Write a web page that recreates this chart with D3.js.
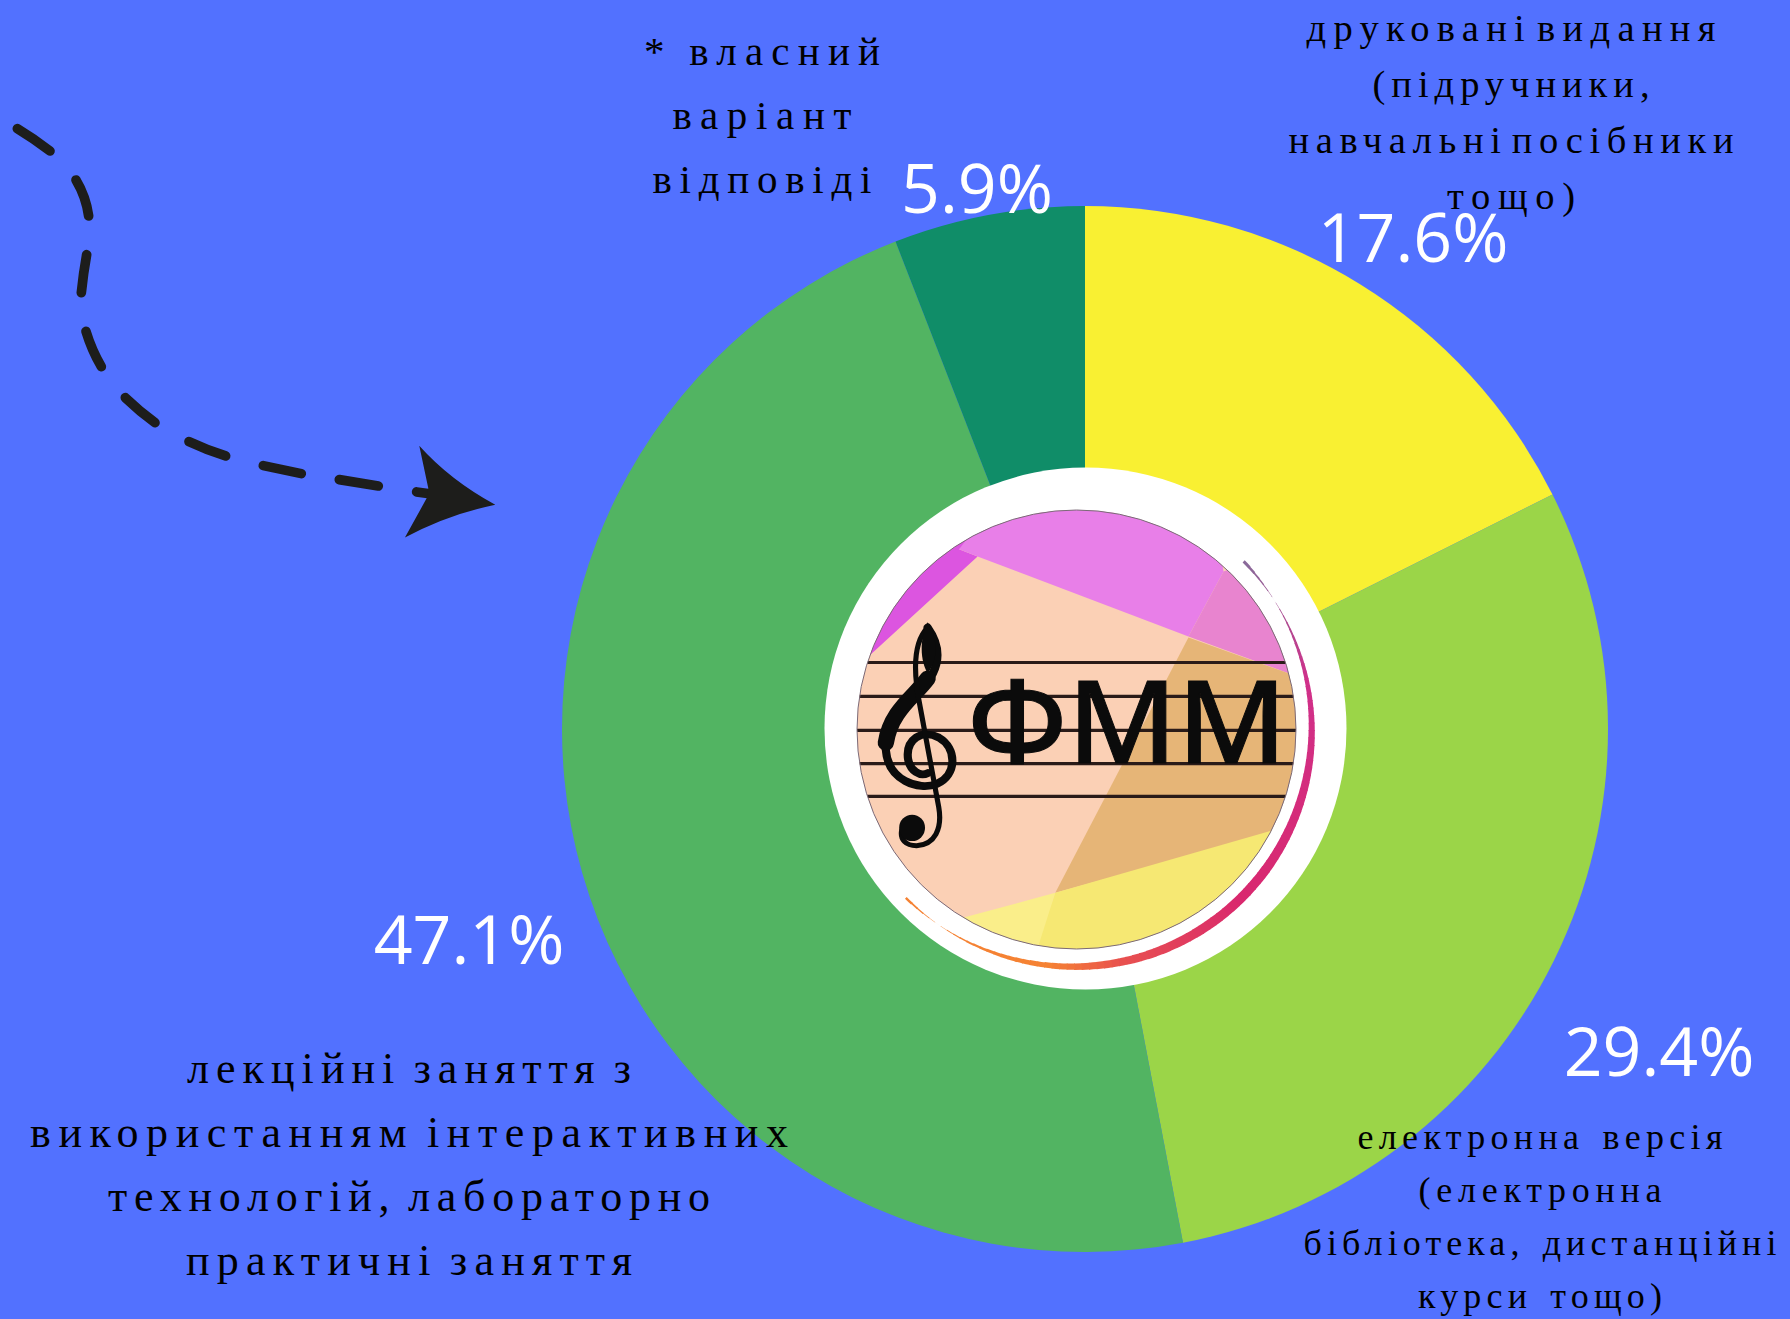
<!DOCTYPE html>
<html><head><meta charset="utf-8">
<script src="https://cdnjs.cloudflare.com/ajax/libs/d3/7.8.5/d3.min.js"></script>
<style>html,body{margin:0;padding:0;background:#5271FF}svg{display:block}</style>
</head><body><div id="chart"></div>
<script>
const categories = ["друковані видання (підручники, навчальні посібники тощо)","електронна версія (електронна бібліотека, дистанційні курси тощо)","лекційні заняття з використанням інтерактивних технологій, лабораторно практичні заняття","* власний варіант відповіді"];
const values = [17.6, 29.4, 47.1, 5.9];
const colors = ["#F9F032","#9BD548","#52B462","#108D68"];
const percentLabels = ["17.6%","29.4%","47.1%","5.9%"];
const percentX = [1413,1659,469,977];
const percentY = [262,1076,964,213];
const labelLines = [
 ["друковані видання","(підручники,","навчальні посібники","тощо)"],
 ["електронна версія","(електронна","бібліотека, дистанційні","курси тощо)"],
 ["лекційні заняття з","використанням інтерактивних","технологій, лабораторно","практичні заняття"],
 ["* власний","варіант","відповіді"]
];
const labelX = [1511,1540,409,762];
const labelY = [41,1149,1083,65];
const labelStep = [56,53,64,64];
const labelSize = [38.5,36,44,41];
const labelWidths = [[409,277,445,128],[365,243,473,244],[444,758,602,446],[236,179,219]];
const wordGap = [-12,4,-6,-2];

const W=1790,H=1319,cx=1085,cy=729,R=523;
const svg=d3.select("#chart").append("svg").attr("width",W).attr("height",H);
svg.append("rect").attr("width",W).attr("height",H).attr("fill","#5271FF");

const pie=d3.pie().sort(null).value(d=>d);
const arc=d3.arc().innerRadius(0).outerRadius(R);
svg.append("g").attr("transform",`translate(${cx},${cy})`)
 .selectAll("path").data(pie(values)).join("path")
 .attr("d",arc).attr("fill",(d,i)=>colors[i]);

// arrow
const ag=svg.append("g").attr("transform","translate(0,100) scale(0.3333)");
const dashes=["M52,86Q100,115 150,153","M228,240Q258,290 266,348","M260,464Q250,520 244,578","M258,694Q275,750 304,800","M376,893Q420,935 465,968","M567,1025Q620,1050 677,1068","M790,1097L904,1121","M1018,1139L1135,1158","M1250,1176L1300,1183"];
ag.selectAll("path.d").data(dashes).join("path").attr("class","d").attr("d",d=>d)
 .attr("fill","none").attr("stroke","#1D1D1B").attr("stroke-width",29).attr("stroke-linecap","round");
ag.append("path").attr("d","M1258,1037Q1350,1140 1486,1214Q1340,1245 1215,1313L1280,1195L1285,1165Z").attr("fill","#1D1D1B");

// centre badge
svg.append("circle").attr("cx",1085.5).attr("cy",728.5).attr("r",261).attr("fill","#fff");
// tapered gradient ring
const ringC=[1075,730];
const ringCol=d3.scaleLinear().domain([0,0.18,0.5,0.68,0.78,1]).range(["#8A6A9A","#D0308A","#D9286E","#E8504F","#F58233","#F58233"]);
const ringG=svg.append("g").attr("transform",`translate(${ringC[0]},${ringC[1]})`);
const ringN=100,a0=Math.PI*0.25,a1=Math.PI*1.25;
d3.range(ringN).forEach(i=>{
  const t=i/ringN,s=a0+(a1-a0)*t,e=s+(a1-a0)/ringN+0.004;
  const w=Math.sin(Math.PI*t);
  ringG.append("path").attr("d",d3.arc().innerRadius(240-8.5*Math.pow(w,0.8)).outerRadius(241-4*(1-w))({startAngle:s,endAngle:e})).attr("fill",ringCol(t));
});
const clip=svg.append("defs").append("clipPath").attr("id","logoClip");
clip.append("circle").attr("cx",1076.5).attr("cy",729.5).attr("r",219.5);
svg.append("circle").attr("cx",1076.5).attr("cy",729.5).attr("r",219.5).attr("fill","#FBD0B5");
const lg=svg.append("g").attr("clip-path","url(#logoClip)").append("g").attr("transform","translate(800,450) scale(0.36996,0.35714)");
const polys=[
 ["#DC55E0","120,640 480,298 430,278 580,180 120,180"],
 ["#E87FE8","480,298 1050,522 1145,340 1100,100 560,100 430,278"],
 ["#E884CF","1145,340 1050,522 1360,640 1360,250"],
 ["#E6B577","1050,525 1360,640 1360,1050 690,1240"],
 ["#F6E873","690,1240 1360,1040 1360,1500 600,1500"],
 ["#FAEE8A","440,1310 690,1240 610,1500 440,1500"]
];
lg.selectAll("polygon").data(polys).join("polygon").attr("points",d=>d[1]).attr("fill",d=>d[0]);
const staffY=[595,690,785,878,970];
lg.selectAll("line").data(staffY).join("line").attr("x1",100).attr("x2",1400).attr("y1",d=>d).attr("y2",d=>d)
 .attr("stroke","#2A1B18").attr("stroke-width",9);
svg.append("circle").attr("cx",1076.5).attr("cy",729.5).attr("r",219.5).attr("fill","none").attr("stroke","#7B6A78").attr("stroke-width",1);
// treble clef
const cg=svg.append("g").attr("transform","translate(800,450) scale(0.36996,0.35714)");
const clefStroke=(d,w)=>cg.append("path").attr("d",d).attr("fill","none").attr("stroke","#0b0b0b").attr("stroke-width",w).attr("stroke-linecap","round");
clefStroke("M345,497C388,560 378,620 320,680C265,735 228,780 232,840C238,925 320,955 370,935C425,910 425,835 375,805C330,780 285,810 292,865C298,900 325,915 345,905",22);
clefStroke("M345,640C310,690 245,730 232,820",44);
clefStroke("M345,497C305,540 305,620 325,720L375,1000C385,1060 365,1105 315,1108C285,1108 270,1090 275,1065",14);
cg.append("ellipse").attr("cx",303).attr("cy",1058).attr("rx",35).attr("ry",37).attr("fill","#0b0b0b");
cg.append("path").attr("d","M345,482C375,530 372,590 345,625C325,590 322,530 345,482Z").attr("fill","#0b0b0b");
// ФММ
svg.append("text").attr("x",967).attr("y",763).attr("textLength",320).attr("lengthAdjust","spacingAndGlyphs")
 .attr("font-family","'Noto Sans',sans-serif").attr("font-size",114).attr("font-weight",500)
 .attr("stroke","#0b0b0b").attr("stroke-width",1).attr("fill","#0b0b0b").text("ФММ");

// black category labels
labelLines.forEach((lines,k)=>{
  svg.append("g").selectAll("text").data(lines).join("text")
   .attr("x",labelX[k]).attr("y",(d,i)=>labelY[k]+i*labelStep[k])
   .attr("text-anchor","middle").attr("font-family","'Liberation Serif',serif")
   .attr("font-size",labelSize[k]).attr("textLength",(d,i)=>labelWidths[k][i]).attr("lengthAdjust","spacing")
   .attr("word-spacing",wordGap[k])
   .attr("fill","#000").text(d=>d);
});
// white percentages
svg.append("g").selectAll("text").data(percentLabels).join("text")
 .attr("x",(d,i)=>percentX[i]).attr("y",(d,i)=>percentY[i])
 .attr("text-anchor","middle").attr("font-family","'Open Sans',sans-serif").attr("font-size",68)
 .attr("font-weight",400).attr("fill","#fff").text(d=>d);
</script></body></html>
